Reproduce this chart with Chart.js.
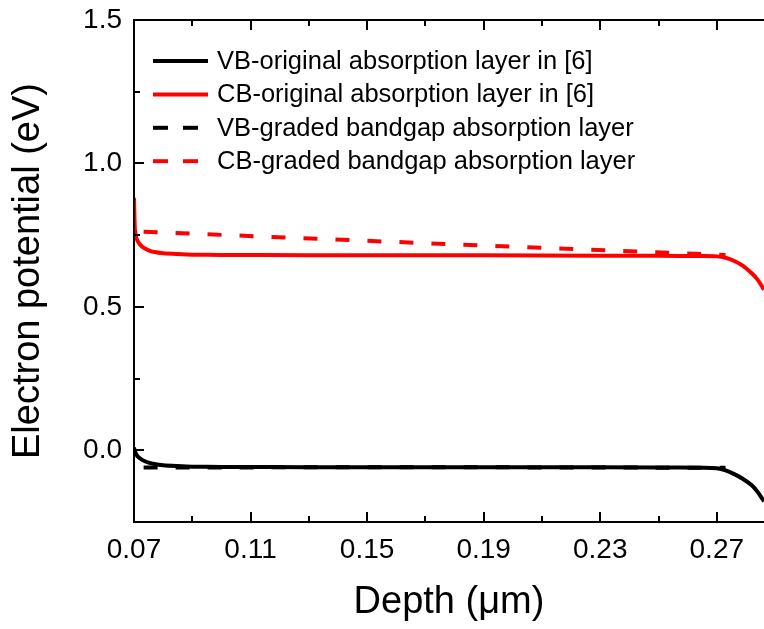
<!DOCTYPE html>
<html>
<head>
<meta charset="utf-8">
<script src="https://cdn.jsdelivr.net/npm/chart.js@4/dist/chart.umd.min.js"></script>
<style>
  html, body { margin: 0; padding: 0; background: #fff; overflow: hidden; }
  #wrap { width: 764px; height: 629px; }
</style>
</head>
<body>
<div id="wrap"><canvas id="bands"></canvas></div>
<script>
// depth (um) for the original absorption layer curves
var depth = [0.07, 0.0703, 0.0706, 0.071, 0.072, 0.073, 0.075, 0.077, 0.08, 0.085, 0.09, 0.1,
             0.13, 0.17, 0.21, 0.25, 0.265, 0.27, 0.273, 0.276, 0.279, 0.282, 0.284, 0.2862];
var vbOriginal = [0.01, -0.003, -0.010, -0.018, -0.028, -0.035, -0.043, -0.048, -0.052, -0.055, -0.057, -0.058,
                  -0.059, -0.059, -0.059, -0.060, -0.061, -0.063, -0.070, -0.083, -0.100, -0.122, -0.145, -0.178];
var cbOriginal = [0.88, 0.77, 0.75, 0.735, 0.718, 0.708, 0.697, 0.691, 0.687, 0.684, 0.682, 0.681,
                  0.680, 0.680, 0.679, 0.678, 0.677, 0.676, 0.671, 0.660, 0.643, 0.617, 0.595, 0.560];

// graded bandgap absorption layer
var depthGraded = [0.0733, 0.17, 0.273];
var vbGraded = [-0.060, -0.059, -0.061];
var cbGraded = [0.762, 0.722, 0.681];

var labels = ['VB-original absorption layer in [6]', 'CB-original absorption layer in [6]',
              'VB-graded bandgap absorption layer', 'CB-graded bandgap absorption layer'];

var xTicks = [0.07, 0.09, 0.11, 0.13, 0.15, 0.17, 0.19, 0.21, 0.23, 0.25, 0.27];
var xMajor = [0.07, 0.11, 0.15, 0.19, 0.23, 0.27];
var yTicks = [0, 0.25, 0.5, 0.75, 1.0, 1.25, 1.5];
var yMajor = [0, 0.5, 1.0, 1.5];

function pts(xs, ys) {
    return xs.map(function (v, i) { return {x: v, y: ys[i]}; });
}
function isMajor(list, v) {
    return list.some(function (m) { return Math.abs(m - v) < 1e-6; });
}

var FONT = "'Liberation Sans', Arial, sans-serif";

// frame (left, bottom, top) + inward tick marks
var frame = {
    id: 'frame',
    afterDraw: function (chart) {
        var ctx = chart.ctx, a = chart.chartArea, x = chart.scales.x, y = chart.scales.y;
        var L = Math.round(a.left), T = Math.round(a.top), B = Math.round(a.bottom), R = Math.round(a.right);
        ctx.save();
        ctx.fillStyle = '#000';
        ctx.fillRect(L - 1, T - 1, R - L + 3, 2);
        ctx.fillRect(L - 1, B - 1, R - L + 3, 2);
        ctx.fillRect(L - 1, T - 1, 2, B - T + 2);
        xTicks.forEach(function (v) {
            var px = Math.round(x.getPixelForValue(v));
            var len = isMajor(xMajor, v) ? 10 : 6;
            ctx.fillRect(px - 1, B - len, 2, len);
            ctx.fillRect(px - 1, T, 2, len);
        });
        yTicks.forEach(function (v) {
            var py = Math.round(y.getPixelForValue(v));
            var len = isMajor(yMajor, v) ? 10 : 6;
            ctx.fillRect(L, py - 1, len, 2);
        });
        ctx.restore();
    }
};

// legend inside the plot, top-left
var boxLegend = {
    id: 'boxLegend',
    afterDraw: function (chart) {
        var ctx = chart.ctx, a = chart.chartArea;
        ctx.save();
        ctx.font = '25.5px ' + FONT;
        ctx.textBaseline = 'middle';
        ctx.fillStyle = '#000';
        chart.data.datasets.forEach(function (ds, i) {
            var cy = a.top + 41 + i * 33.4;
            var x0 = a.left + 19;
            ctx.strokeStyle = ds.borderColor;
            ctx.lineWidth = 4;
            ctx.setLineDash(ds.borderDash && ds.borderDash.length ? [15, 15] : []);
            ctx.beginPath();
            ctx.moveTo(x0, cy); ctx.lineTo(x0 + 55, cy);
            ctx.stroke();
            ctx.setLineDash([]);
            ctx.fillText(ds.label, x0 + 64, cy + 1);
        });
        ctx.restore();
    }
};

var bands = document.getElementById('bands');

var bandChart = new Chart(bands, {
    type: 'line',
    data: {
        datasets: [{
            label: labels[0],
            data: pts(depth, vbOriginal),
            borderColor: '#000000',
            borderWidth: 4,
            pointRadius: 0,
            tension: 0.3
        }, {
            label: labels[1],
            data: pts(depth, cbOriginal),
            borderColor: '#ff0000',
            borderWidth: 4,
            pointRadius: 0,
            tension: 0.3
        }, {
            label: labels[2],
            data: pts(depthGraded, vbGraded),
            borderColor: '#000000',
            borderWidth: 4,
            borderDash: [14, 18],
            pointRadius: 0,
            tension: 0
        }, {
            label: labels[3],
            data: pts(depthGraded, cbGraded),
            borderColor: '#ff0000',
            borderWidth: 4,
            borderDash: [14, 18],
            pointRadius: 0,
            tension: 0
        }]
    },
    options: {
        responsive: true,
        maintainAspectRatio: false,
        animation: false,
        layout: { padding: { left: 0, right: 0, top: 20, bottom: 0 } },
        plugins: {
            legend: { display: false },
            tooltip: { enabled: false }
        },
        scales: {
            x: {
                type: 'linear',
                min: 0.07,
                max: 0.2862,
                afterBuildTicks: function (s) { s.ticks = xTicks.map(function (v) { return {value: v}; }); },
                afterFit: function (s) { s.height = 107; s.paddingLeft = 0; s.paddingRight = 0; },
                grid: { display: false, drawTicks: false },
                border: { display: false },
                ticks: {
                    autoSkip: false,
                    maxRotation: 0,
                    padding: 11,
                    color: '#000',
                    font: { family: FONT, size: 28 },
                    callback: function (v) { return isMajor(xMajor, v) ? v.toFixed(2) : ''; }
                },
                title: {
                    display: true,
                    text: 'Depth (\u03bcm)',
                    color: '#000',
                    font: { family: FONT, size: 38 },
                    padding: { top: 0, bottom: 4 }
                }
            },
            y: {
                min: -0.25,
                max: 1.5,
                afterBuildTicks: function (s) { s.ticks = yTicks.map(function (v) { return {value: v}; }); },
                afterFit: function (s) { s.width = 134; s.paddingTop = 0; s.paddingBottom = 0; },
                grid: { display: false, drawTicks: false },
                border: { display: false },
                ticks: {
                    autoSkip: false,
                    padding: 12,
                    color: '#000',
                    font: { family: FONT, size: 28 },
                    callback: function (v) { return isMajor(yMajor, v) ? v.toFixed(1) : ''; }
                },
                title: {
                    display: true,
                    text: 'Electron potential (eV)',
                    color: '#000',
                    font: { family: FONT, size: 38 },
                    padding: { top: 6, bottom: 0 }
                }
            }
        }
    },
    plugins: [frame, boxLegend]
});
</script>
</body>
</html>
